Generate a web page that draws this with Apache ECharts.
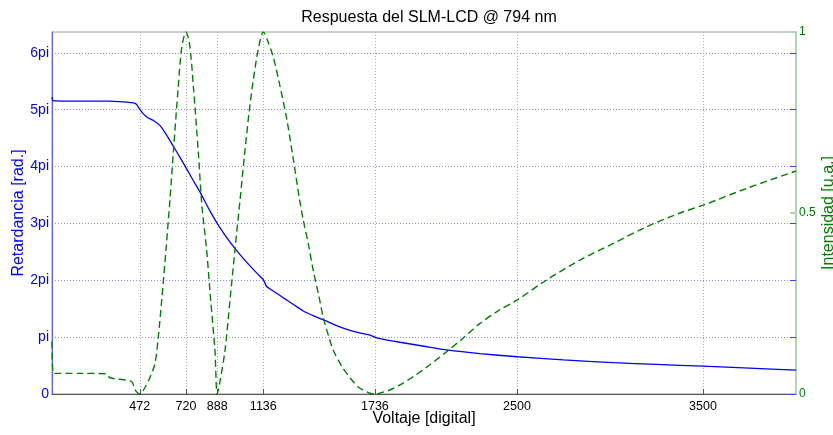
<!DOCTYPE html>
<html>
<head>
<meta charset="utf-8">
<script src="https://cdn.jsdelivr.net/npm/echarts@6/dist/echarts.min.js"></script>
<style>
  html, body { margin: 0; padding: 0; background: #fff; }
  #slm_chart { width: 833px; height: 435px; }
</style>
</head>
<body>
<div id="slm_chart"></div>
<script>
// retardancia (en unidades de pi) vs voltaje digital
var retVolt = [0, 6, 150, 300, 437, 455, 473, 490, 509, 545, 581, 617, 652, 688, 724, 760, 796, 849, 894, 957,
  1029, 1100, 1136, 1154, 1200, 1244, 1300, 1351, 1410, 1477, 1540, 1602, 1660, 1710, 1736, 1755, 1871, 2000,
  2122, 2300, 2502, 2750, 3018, 3250, 3502, 3750, 4000]
var retPi = [5.22, 5.16, 5.15, 5.15, 5.12, 5.09, 5.0, 4.93, 4.87, 4.81, 4.72, 4.55, 4.36, 4.16, 3.96, 3.75, 3.55, 3.22, 2.97, 2.67,
  2.38, 2.13, 2.01, 1.89, 1.79, 1.69, 1.57, 1.46, 1.37, 1.28, 1.19, 1.12, 1.07, 1.035, 1.0, 0.98, 0.91, 0.84,
  0.775, 0.71, 0.655, 0.6, 0.55, 0.52, 0.49, 0.455, 0.42]

// intensidad normalizada vs voltaje digital
var intVolt = [0, 8, 150, 290, 312, 428, 446, 472, 500, 530, 554, 572, 590, 613, 634, 652, 679, 697, 720, 740,
  760, 787, 806, 831, 853, 876, 888, 903, 930, 957, 984, 1011, 1035, 1060, 1083, 1110, 1136, 1160, 1190, 1226,
  1262, 1297, 1330, 1351, 1380, 1405, 1435, 1459, 1490, 1513, 1560, 1602, 1650, 1700, 1736, 1780, 1817, 1871,
  1943, 2030, 2122, 2200, 2301, 2400, 2502, 2659, 2839, 3018, 3197, 3376, 3502, 3735, 4000]
var intVal = [0.145, 0.057, 0.057, 0.056, 0.045, 0.034, 0.012, 0, 0.018, 0.05, 0.085, 0.16, 0.26, 0.40, 0.536, 0.665, 0.85, 0.955, 1, 0.965,
  0.85, 0.665, 0.52, 0.40, 0.26, 0.12, 0, 0.035, 0.12, 0.26, 0.40, 0.536, 0.66, 0.78, 0.87, 0.955, 1, 0.975, 0.93, 0.85,
  0.76, 0.65, 0.54, 0.48, 0.41, 0.34, 0.27, 0.21, 0.155, 0.12, 0.075, 0.045, 0.018, 0.004, 0, 0.005, 0.011, 0.025,
  0.048, 0.08, 0.117, 0.15, 0.195, 0.23, 0.26, 0.315, 0.37, 0.416, 0.462, 0.5, 0.522, 0.568, 0.616]

// marcas de los ejes
var xTicks = [472, 720, 888, 1136, 1736, 2500, 3500]
var piTicks = [0, 1, 2, 3, 4, 5, 6]
var intTicks = [0, 0.5, 1]

var retData = retVolt.map(function (v, i) { return [v, retPi[i]] })
var intData = intVolt.map(function (v, i) { return [v, intVal[i]] })

var slm_chart = echarts.init(document.getElementById('slm_chart'))
option = {
  animation: false,
  backgroundColor: '#fff',
  textStyle: { fontFamily: 'Liberation Sans, Arial, sans-serif' },
  title: {
    text: 'Respuesta del SLM-LCD @ 794 nm',
    left: 424,
    textAlign: 'center',
    top: 5,
    textStyle: { fontSize: 16, fontWeight: 'normal', color: '#000' },
  },
  grid: {
    left: 52,
    right: 37,
    top: 32,
    bottom: 41,
    containLabel: false,
    outerBoundsMode: 'none',
    show: true,
    borderColor: '#9a9a9a',
    borderWidth: 1,
  },
  xAxis: {
    type: 'value',
    min: 0,
    max: 4000,
    name: 'Voltaje [digital]',
    nameLocation: 'middle',
    nameGap: 17,
    nameMoveOverlap: false,
    nameTextStyle: { fontSize: 16, color: '#000' },
    axisLine: { lineStyle: { color: '#555', width: 1 } },
    axisTick: { inside: true, length: 5, customValues: xTicks, lineStyle: { color: '#555' } },
    axisLabel: {
      customValues: xTicks,
      color: '#000',
      fontSize: 12.5,
      margin: 6,
      formatter: function (v) { return String(v) },
    },
    splitLine: { show: true, lineStyle: { color: '#b0b0b0', type: [1, 2], width: 1 } },
  },
  yAxis: [
    {
      type: 'value',
      min: 0,
      max: 20 / Math.PI,
      position: 'left',
      name: 'Retardancia [rad.]',
      nameLocation: 'middle',
      nameRotate: 90,
      nameGap: 25,
      nameMoveOverlap: false,
      nameTextStyle: { fontSize: 16, color: '#0000ff' },
      axisLine: { show: true, lineStyle: { color: '#5a5aff', width: 1 } },
      axisTick: { show: false, customValues: piTicks },
      axisLabel: {
        customValues: piTicks,
        color: '#0000ff',
        fontSize: 14,
        margin: 3,
        formatter: function (v) {
          if (v === 0) return '0'
          if (v === 1) return 'pi'
          return v + 'pi'
        },
      },
      splitLine: { show: true, lineStyle: { color: '#8c8cff', type: [1, 2], width: 1 } },
    },
    {
      type: 'value',
      min: 0,
      max: 1,
      position: 'right',
      name: 'Intensidad [u.a.]',
      nameLocation: 'middle',
      nameRotate: 90,
      nameGap: 25,
      nameMoveOverlap: false,
      nameTextStyle: { fontSize: 16, color: '#008000' },
      axisLine: { show: true, lineStyle: { color: '#b0d8b0', width: 2 } },
      axisTick: { show: true, inside: true, length: 6, customValues: intTicks, lineStyle: { color: '#b0d8b0', width: 2 } },
      axisLabel: { customValues: intTicks, color: '#008000', fontSize: 12, margin: 3 },
      splitLine: { show: false },
    },
    {
      type: 'value',
      min: 0,
      max: 20 / Math.PI,
      position: 'right',
      axisLine: { show: false },
      axisTick: { show: true, inside: true, length: 6, customValues: piTicks, lineStyle: { color: '#3a3aff', width: 1 } },
      axisLabel: { show: false },
      splitLine: { show: false },
    },
  ],
  series: [
    {
      name: 'Retardancia',
      type: 'line',
      yAxisIndex: 0,
      data: retData,
      showSymbol: false,
      smooth: 0.2,
      lineStyle: { color: '#0000ff', width: 1.3 },
      z: 3,
    },
    {
      name: 'Intensidad',
      type: 'line',
      yAxisIndex: 1,
      data: intData,
      showSymbol: false,
      smooth: 0.3,
      lineStyle: { color: '#008000', width: 1.4, type: [7, 4] },
      z: 4,
    },
  ],
}
slm_chart.setOption(option)

window.addEventListener('resize', function () {
  slm_chart.resize()
})
</script>
</body>
</html>
